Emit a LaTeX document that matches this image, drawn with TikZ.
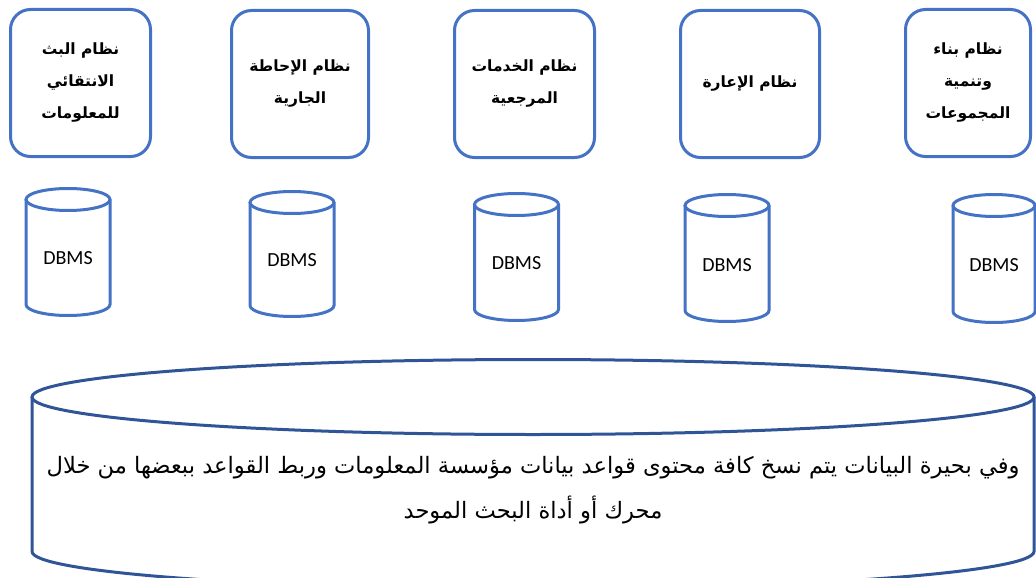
\documentclass[tikz,border=0pt]{standalone}
\usepackage{fontspec}
\newfontfamily\arabicfont[Script=Arabic]{DejaVu Sans}
\newfontfamily\latinsans{Carlito}
\TeXXeTstate=1

\definecolor{officeblue}{HTML}{4472C4}
\definecolor{deepblue}{HTML}{2F5597}

% #1 name, #2 centre x, #3 top y, #4 bottom y, #5 x radius, #6 y radius, #7 style
\newcommand\drum[7]{%
  \draw[#7] (#2,#3+#6) ellipse [x radius=#5, y radius=#6];
  \draw[#7] (#2-#5,#3+#6) -- (#2-#5,#4-#6)
    arc[start angle=180, end angle=0, x radius=#5, y radius=#6]
    -- (#2+#5,#3+#6);
  \coordinate (#1) at (#2,{(#3+#4)/2});
}

\tikzset{
  sysbox/.style={draw=officeblue, line width=3pt, rounded corners=20pt,
    minimum height=147pt, inner sep=0pt, align=center,
    font=\arabicfont\bfseries\fontsize{15.5}{32}\selectfont},
  dbline/.style={draw=officeblue, line width=3pt},
  lakeline/.style={draw=deepblue, line width=3pt},
  dblabel/.style={font=\latinsans\fontsize{20}{24}\selectfont},
  laketext/.style={align=center, font=\arabicfont\fontsize{22.6}{45}\selectfont}
}

\begin{document}
\begin{tikzpicture}[x=1pt, y=-1pt]
\useasboundingbox (0,0) rectangle (1036,578);
\clip (0,0) rectangle (1036,578);

% application systems
\node[sysbox, minimum width=140pt] (s1) at (80.5,83)
  {\beginR نظام البث\endR\\\beginR الانتقائي\endR\\\beginR للمعلومات\endR};
\node[sysbox, minimum width=137pt] (s2) at (300,84)
  {\beginR نظام الإحاطة\endR\\\beginR الجارية\endR};
\node[sysbox, minimum width=140pt] (s3) at (524.5,84)
  {\beginR نظام الخدمات\endR\\\beginR المرجعية\endR};
\node[sysbox, minimum width=139pt] (s4) at (750,84)
  {\beginR نظام الإعارة\endR};
\node[sysbox, minimum width=125pt] (s5) at (968,83)
  {\beginR نظام بناء\endR\\\beginR وتنمية\endR\\\beginR المجموعات\endR};

% database management systems
\drum{d1}{68}{188.5}{315.5}{42}{11}{dbline}
\drum{d2}{292}{191.5}{316.5}{42}{11}{dbline}
\drum{d3}{516.5}{193.5}{320.5}{42}{11}{dbline}
\drum{d4}{727}{194.5}{321.5}{42}{11}{dbline}
\drum{d5}{994}{194.5}{322.5}{41}{11}{dbline}
\node[dblabel] (l1) at (68,258) {DBMS};
\node[dblabel] (l2) at (292,260) {DBMS};
\node[dblabel] (l3) at (516.5,263) {DBMS};
\node[dblabel] (l4) at (727,265) {DBMS};
\node[dblabel] (l5) at (994,265) {DBMS};

% data lake
\drum{lake}{533}{359.5}{589}{501}{37.5}{lakeline}
\node[laketext] (lt) at (533,490)
  {\beginR وفي بحيرة البيانات يتم نسخ كافة محتوى قواعد بيانات مؤسسة المعلومات وربط القواعد ببعضها من خلال\endR\\
   \beginR محرك أو أداة البحث الموحد\endR};
\end{tikzpicture}
\end{document}
